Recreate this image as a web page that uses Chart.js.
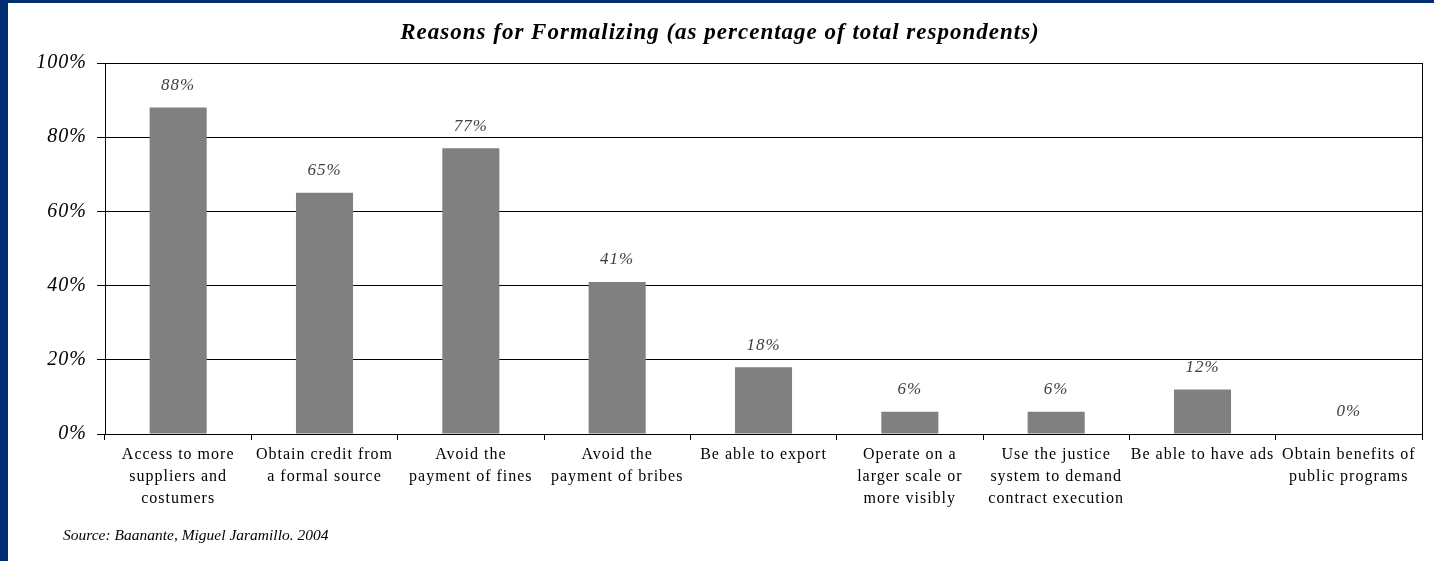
<!DOCTYPE html>
<html>
<head>
<meta charset="utf-8">
<script src="https://cdn.jsdelivr.net/npm/chart.js@4"></script>
<style>
  html, body { margin: 0; padding: 0; background: #002d72; }
  #frame { width: 1434px; height: 561px; background: #002d72; position: relative; overflow: hidden; }
  #wrap { position: absolute; left: 8px; top: 3px; width: 1426px; height: 558px; background: #ffffff; }
</style>
</head>
<body>
<div id="frame">
  <div id="wrap"><canvas id="chart" width="1426" height="558"></canvas></div>
</div>
<script>
// reasons, one per bar (multi-line labels)
const reasons = [
    ["Access to more", "suppliers and", "costumers"],
    ["Obtain credit from", "a formal source"],
    ["Avoid the", "payment of fines"],
    ["Avoid the", "payment of bribes"],
    ["Be able to export"],
    ["Operate on a", "larger scale or", "more visibly"],
    ["Use the justice", "system to demand", "contract execution"],
    ["Be able to have ads"],
    ["Obtain benefits of", "public programs"]
];
// percentage of total respondents
const percent = [88, 65, 77, 41, 18, 6, 6, 12, 0];
const yTicks = [0, 20, 40, 60, 80, 100];

const titleText = "Reasons for Formalizing (as percentage of total respondents)";
const sourceText = "Source: Baanante, Miguel Jaramillo. 2004";

const serif = "'Liberation Serif', 'Times New Roman', serif";

/* the original text is spaced out a bit, so widen all the axis text */
const spacing = {
    id: 'spacing',
    beforeDraw(chart){
        chart.ctx.letterSpacing = "1px";
    }
};

/* title drawn by hand so it can have its own spacing */
const titleDraw = {
    id: 'titleDraw',
    afterDraw(chart){
        const ctx = chart.ctx;
        ctx.save();
        ctx.letterSpacing = "1px";
        ctx.font = "italic bold 23px " + serif;
        ctx.fillStyle = "#000000";
        ctx.textAlign = "center";
        ctx.textBaseline = "middle";
        ctx.fillText(titleText, 712, 30);
        ctx.restore();
    }
};

/* draws the italic value above each bar */
const valueLabels = {
    id: 'valueLabels',
    afterDatasetsDraw(chart){
        const ctx = chart.ctx;
        const meta = chart.getDatasetMeta(0);
        ctx.save();
        ctx.letterSpacing = "1px";
        ctx.font = "italic 17px " + serif;
        ctx.fillStyle = "#404040";
        ctx.textAlign = "center";
        ctx.textBaseline = "middle";
        meta.data.forEach((bar, i) => {
            ctx.fillText(percent[i] + "%", bar.x, bar.y - 22);
        });
        ctx.restore();
    }
};

/* source note under the chart */
const sourceNote = {
    id: 'sourceNote',
    afterDraw(chart){
        const ctx = chart.ctx;
        ctx.save();
        ctx.letterSpacing = "0px";
        ctx.font = "italic 15.5px " + serif;
        ctx.fillStyle = "#000000";
        ctx.textAlign = "left";
        ctx.textBaseline = "middle";
        ctx.fillText(sourceText, 55, 533);
        ctx.restore();
    }
};

/* box around plot area */
const plotBox = {
    id: 'plotBox',
    beforeDatasetsDraw(chart){
        const a = chart.chartArea;
        const ctx = chart.ctx;
        ctx.save();
        ctx.strokeStyle = "#000000";
        ctx.lineWidth = 1;
        ctx.strokeRect(Math.round(a.left) + 0.5, Math.round(a.top) + 0.5, Math.round(a.right - a.left), Math.round(a.bottom - a.top));
        ctx.restore();
    }
};

new Chart(document.getElementById("chart"), {
    type: "bar",
    data: {
        labels: reasons,
        datasets: [{
            data: percent,
            backgroundColor: "#808080",
            borderWidth: 0,
            barPercentage: 0.39,
            categoryPercentage: 1.0
        }]
    },
    options: {
        responsive: false,
        animation: false,
        layout: { padding: { left: 0, right: 12, top: 60, bottom: 27 } },
        plugins: {
            legend: { display: false },
            tooltip: { enabled: false },
            title: { display: false }
        },
        scales: {
            x: {
                grid: { display: true, drawOnChartArea: false, offset: true, color: "#000000", tickLength: 6 },
                border: { color: "#000000" },
                ticks: {
                    color: "#000000",
                    font: { family: serif, size: 16, lineHeight: 1.38 },
                    maxRotation: 0,
                    autoSkip: false,
                    padding: 4
                },
                afterFit(scale){ scale.height = 100; }
            },
            y: {
                min: 0,
                max: 100,
                afterBuildTicks(scale){ scale.ticks = yTicks.map(v => ({value: v})); },
                grid: { color: "#000000", tickLength: 8 },
                border: { color: "#000000" },
                ticks: {
                    color: "#000000",
                    font: { family: serif, size: 20, style: "italic" },
                    padding: 10,
                    callback: v => v + "%"
                },
                afterFit(scale){ scale.width = 97; }
            }
        }
    },
    plugins: [spacing, plotBox, valueLabels, titleDraw, sourceNote]
});
</script>
</body>
</html>
